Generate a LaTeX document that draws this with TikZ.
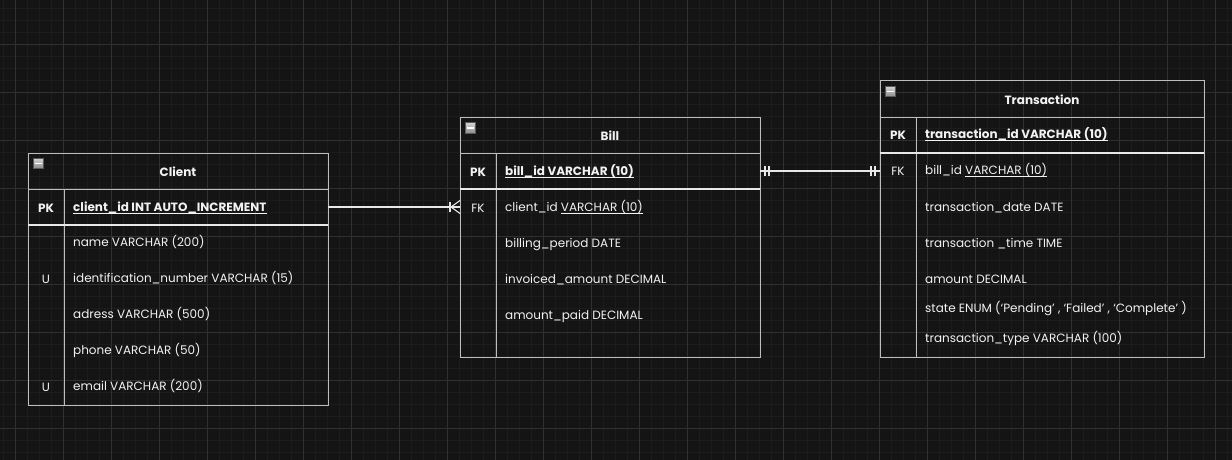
\documentclass[tikz,border=0pt]{standalone}
\usepackage{fontspec}
\setmainfont{Poppins}
\definecolor{bg}{HTML}{141414}
\definecolor{minorgrid}{HTML}{1C1C1C}
\definecolor{majorgrid}{HTML}{303030}
\definecolor{bordergray}{HTML}{BDBDBD}
\definecolor{brightline}{HTML}{E8E8E8}
\definecolor{txt}{HTML}{F2F2F2}
\definecolor{iconlight}{HTML}{D4D4D4}
\definecolor{icondark}{HTML}{8A8A8A}
\definecolor{iconedge}{HTML}{5A5A5A}
\newcommand\ulfield[1]{\setbox0\hbox{#1}\rlap{\color{txt}\rule[-2.4pt]{\wd0}{0.8pt}}\box0}
\begin{document}
\begin{tikzpicture}[x=1pt,y=-1pt,
  font=\fontsize{12}{14}\selectfont,
  tbl/.style={draw=bordergray, line width=1pt, inner sep=0pt, outer sep=0pt, anchor=north west},
  rowspan/.style={minimum width=#1, minimum height=36pt, inner sep=0pt, outer sep=0pt, anchor=west},
  titletext/.style={text=txt, font=\fontsize{12}{14}\selectfont\bfseries, inner sep=0pt, yshift=-1pt},
  field/.style={text=txt, anchor=mid west, inner sep=0pt, yshift=-1.5pt},
  pkfield/.style={field, font=\fontsize{12}{14}\selectfont\bfseries},
  keytext/.style={text=txt, inner sep=0pt, yshift=-1pt},
  pkkey/.style={keytext, font=\fontsize{12}{14}\selectfont\bfseries},
  sepline/.style={draw=bordergray, line width=1pt},
  pkline/.style={draw=brightline, line width=1.3pt},
  icon/.style={minimum size=10.5pt, inner sep=0pt, draw=iconedge, line width=0.6pt,
    top color=iconlight, bottom color=icondark,
    path picture={\draw[white, line width=1.6pt]
      ([xshift=2.2pt]path picture bounding box.west) -- ([xshift=-2.2pt]path picture bounding box.east);}},
  conn/.style={draw=brightline, line width=1.3pt},
  ermark/.style={draw=brightline, line width=1.1pt}
]
\useasboundingbox (0,0) rectangle (1232,460);
\fill[bg] (0,0) rectangle (1232,460);
% grid
\foreach \i in {0,...,102} \draw[minorgrid, line width=0.8pt] ({3.3+12*\i},0) -- ++(0,460);
\foreach \j in {0,...,38} \draw[minorgrid, line width=0.8pt] (0,{8.3+12*\j}) -- ++(1232,0);
\foreach \i in {0,...,25} \draw[majorgrid, line width=0.9pt] ({15.3+48*\i},0) -- ++(0,460);
\foreach \j in {0,...,8} \draw[majorgrid, line width=0.9pt] (0,{44.3+48*\j}) -- ++(1232,0);

% ================= Client =================
\node[tbl, minimum width=300pt, minimum height=252pt] (client) at (28,153) {};
\draw[sepline] (28,189) -- (328,189);
\draw[sepline] (64,189) -- (64,405);
\draw[pkline] (28,225) -- (328,225);
\node[icon] (client-icon) at (38.5,163.5) {};
\node[titletext] (client-title) at (178,171) {Client};
\node[rowspan=300pt] (c-pk) at (28,207) {};
\node[pkkey] (c-pk-key) at (46,207) {PK};
\node[pkfield] (c-pk-f) at (73,207) {\ulfield{client\_id INT AUTO\_INCREMENT}};
\node[field] (c-f1) at (73,242) {name VARCHAR (200)};
\node[keytext] (c-k2) at (46,278) {U};
\node[field] (c-f2) at (73,278) {identification\_number VARCHAR (15)};
\node[field] (c-f3) at (73,314) {adress VARCHAR (500)};
\node[field] (c-f4) at (73,350) {phone VARCHAR (50)};
\node[keytext] (c-k5) at (46,386) {U};
\node[field] (c-f5) at (73,386) {email VARCHAR (200)};

% ================= Bill =================
\node[tbl, minimum width=300pt, minimum height=240pt] (bill) at (460,117) {};
\draw[sepline] (460,153) -- (760,153);
\draw[sepline] (496,153) -- (496,357);
\draw[pkline] (460,189) -- (760,189);
\node[icon] (bill-icon) at (470.5,128) {};
\node[titletext] (bill-title) at (610,135) {Bill};
\node[rowspan=300pt] (b-pk) at (460,171) {};
\node[pkkey] (b-pk-key) at (478,171) {PK};
\node[pkfield] (b-pk-f) at (505,171) {\ulfield{bill\_id VARCHAR (10)}};
\node[rowspan=300pt] (b-fk) at (460,207) {};
\node[keytext] (b-fk-key) at (478,207) {FK};
\node[field] (b-f1) at (505,207) {client\_id \ulfield{VARCHAR (10)}};
\node[field] (b-f2) at (505,243) {billing\_period DATE};
\node[field] (b-f3) at (505,279) {invoiced\_amount DECIMAL};
\node[field] (b-f4) at (505,315) {amount\_paid DECIMAL};

% ================= Transaction =================
\node[tbl, minimum width=324pt, minimum height=276pt] (trans) at (880,81) {};
\draw[sepline] (880,117) -- (1204,117);
\draw[sepline] (916,117) -- (916,357);
\draw[pkline] (880,153) -- (1204,153);
\node[icon] (trans-icon) at (890.5,91.5) {};
\node[titletext] (trans-title) at (1042,99) {Transaction};
\node[rowspan=324pt] (t-pk) at (880,134) {};
\node[pkkey] (t-pk-key) at (898,134) {PK};
\node[pkfield] (t-pk-f) at (925,134) {\ulfield{transaction\_id VARCHAR (10)}};
\node[rowspan=324pt] (t-fk) at (880,170) {};
\node[keytext] (t-fk-key) at (898,170) {FK};
\node[field] (t-f1) at (925,170) {bill\_id \ulfield{VARCHAR (10)}};
\node[field] (t-f2) at (925,207) {transaction\_date DATE};
\node[field] (t-f3) at (925,243) {transaction \_time TIME};
\node[field] (t-f4) at (925,279) {amount DECIMAL};
\node[field] (t-f5) at (925,308) {state ENUM (`Pending' , `Failed' , `Complete' )};
\node[field] (t-f6) at (925,338) {transaction\_type VARCHAR (100)};

% ================= Connectors =================
% Client (one) -- Bill (many, mandatory)
\draw[conn] (c-pk.east) -- (b-fk.west);
\draw[ermark] ([xshift=-10pt,yshift=-5pt]b-fk.west) -- ([xshift=-10pt,yshift=5pt]b-fk.west);
\draw[ermark] ([yshift=-6.5pt]b-fk.west) -- ([xshift=-9pt]b-fk.west) -- ([yshift=6.5pt]b-fk.west);

% Bill (one) -- Transaction (one)
\coordinate (t-end) at (b-pk.east -| t-fk.west);
\draw[conn] (b-pk.east) -- (t-end);
\draw[ermark] ([xshift=5pt,yshift=-5pt]b-pk.east) -- ([xshift=5pt,yshift=5pt]b-pk.east);
\draw[ermark] ([xshift=9pt,yshift=-5pt]b-pk.east) -- ([xshift=9pt,yshift=5pt]b-pk.east);
\draw[ermark] ([xshift=-9pt,yshift=-5pt]t-end) -- ([xshift=-9pt,yshift=5pt]t-end);
\draw[ermark] ([xshift=-5pt,yshift=-5pt]t-end) -- ([xshift=-5pt,yshift=5pt]t-end);
\end{tikzpicture}
\end{document}
